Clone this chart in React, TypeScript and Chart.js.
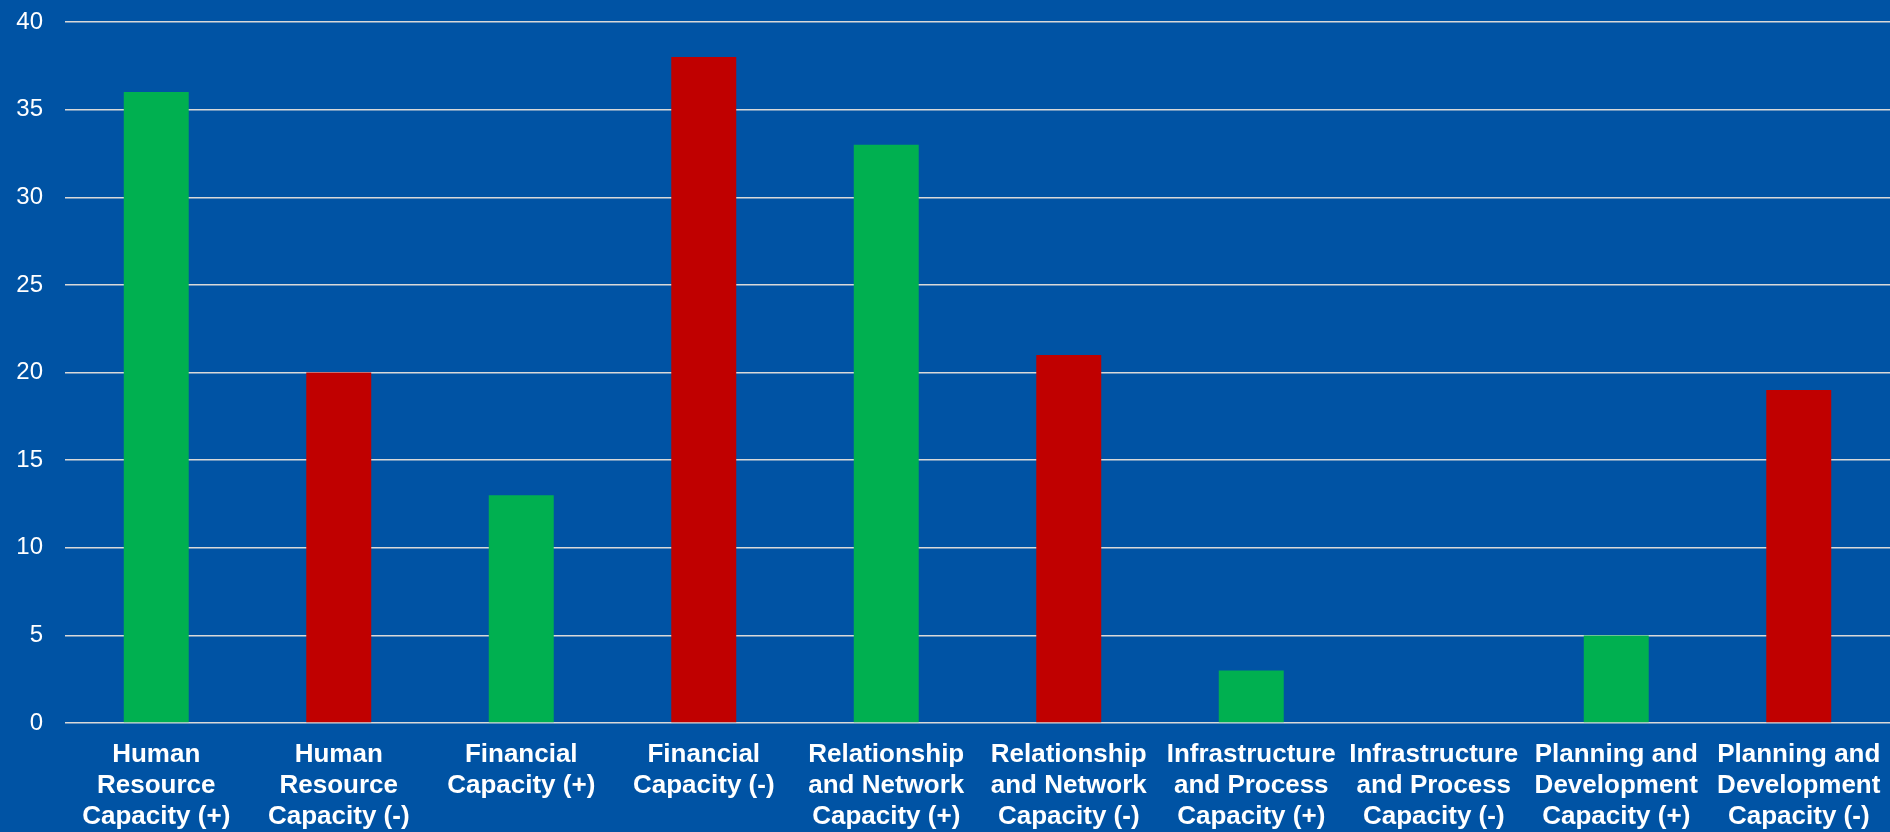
import React, { useEffect, useRef } from "react";
import { Chart, registerables } from "chart.js";

Chart.register(...registerables);

const categories: string[][] = [
  ["Human", "Resource", "Capacity (+)"],
  ["Human", "Resource", "Capacity (-)"],
  ["Financial", "Capacity (+)"],
  ["Financial", "Capacity (-)"],
  ["Relationship", "and Network", "Capacity (+)"],
  ["Relationship", "and Network", "Capacity (-)"],
  ["Infrastructure", "and Process", "Capacity (+)"],
  ["Infrastructure", "and Process", "Capacity (-)"],
  ["Planning and", "Development", "Capacity (+)"],
  ["Planning and", "Development", "Capacity (-)"],
];

const values: number[] = [36, 20, 13, 38, 33, 21, 3, 0, 5, 19];

const barColors: string[] = [
  "#00B050", "#C00000", "#00B050", "#C00000", "#00B050",
  "#C00000", "#00B050", "#C00000", "#00B050", "#C00000",
];

const yTicks: number[] = [0, 5, 10, 15, 20, 25, 30, 35, 40];

const BG = "#0053A4";
const FONT = "'Liberation Sans', Arial, sans-serif";

export default function App() {
  const ref = useRef<HTMLCanvasElement | null>(null);

  useEffect(() => {
    document.body.style.margin = "0";
    document.body.style.background = BG;
    if (!ref.current) return;
    const chart = new Chart(ref.current, {
      type: "bar",
      data: {
        labels: categories,
        datasets: [
          {
            data: values,
            backgroundColor: barColors,
            borderWidth: 0,
            categoryPercentage: 1,
            barPercentage: 0.356,
          },
        ],
      },
      options: {
        animation: false,
        responsive: true,
        maintainAspectRatio: false,
        layout: { padding: { top: 22, left: 0, right: 0, bottom: 0 } },
        plugins: {
          legend: { display: false },
          tooltip: { enabled: false },
        },
        scales: {
          x: {
            afterFit: (s: any) => {
              s.paddingLeft = 0;
              s.paddingRight = 0;
              s.height = 109;
            },
            grid: { display: false, drawTicks: false },
            border: { display: false },
            ticks: {
              color: "#FFFFFF",
              autoSkip: false,
              maxRotation: 0,
              minRotation: 0,
              padding: 16,
              font: { family: FONT, size: 26, weight: "bold", lineHeight: 1.2 },
            },
          },
          y: {
            min: yTicks[0],
            max: yTicks[yTicks.length - 1],
            afterFit: (s: any) => {
              s.width = 65;
              s.paddingTop = 0;
              s.paddingBottom = 0;
            },
            grid: { color: "#D9D9D9", lineWidth: 1.5, drawTicks: false },
            border: { display: false },
            ticks: {
              stepSize: 5,
              color: "#FFFFFF",
              padding: 22,
              font: { family: FONT, size: 24 },
            },
          },
        },
      },
    });
    return () => chart.destroy();
  }, []);

  return (
    <div style={{ width: 1890, height: 832, background: BG, position: "relative" }}>
      <canvas ref={ref} />
    </div>
  );
}
